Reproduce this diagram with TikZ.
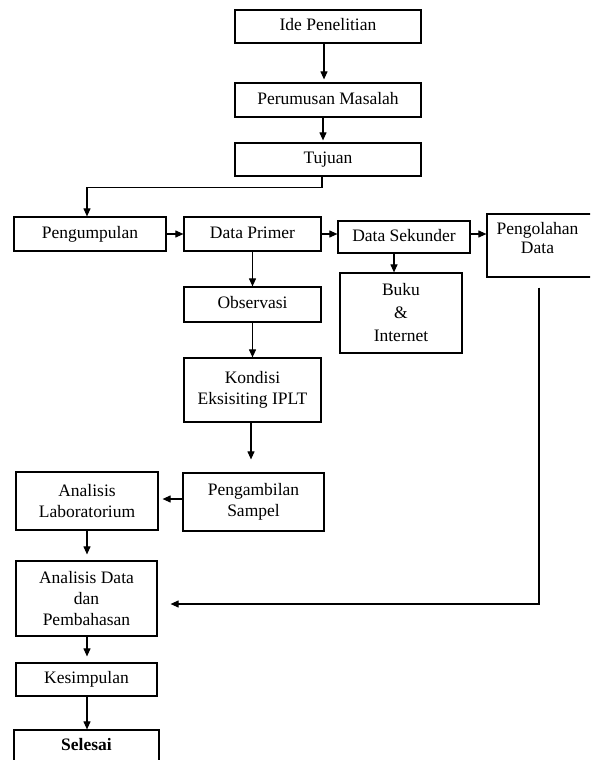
\documentclass[tikz,border=0pt]{standalone}
\usepackage{fontspec}
\setmainfont{Liberation Serif}
\usetikzlibrary{arrows.meta}
\tikzset{
  box/.style={draw, line width=1.2pt, rectangle, inner sep=0pt, align=center, fill=white,
              font=\fontsize{17.5}{21}\selectfont},
  one/.style={text height=12pt, text depth=3.8pt},
  arr/.style={-{Triangle[length=8pt,width=7pt]}, line width=1.1pt},
}
\begin{document}
\begin{tikzpicture}[x=1pt, y=-1pt]
\useasboundingbox (0,0) rectangle (590,760);
\clip (0,0) rectangle (590,760);
\fill[white] (0,0) rectangle (590,760);

% boxes
\node[box, one, minimum width=186pt, minimum height=33pt] (ide) at (328,26.5) {Ide Penelitian};
\node[box, one, minimum width=186pt, minimum height=34pt] (rumus) at (328,100) {Perumusan Masalah};
\node[box, one, minimum width=186pt, minimum height=33pt] (tujuan) at (328,159.5) {Tujuan};
\node[box, one, minimum width=152pt, minimum height=34pt] (kumpul) at (90,234) {Pengumpulan};
\node[box, one, minimum width=137pt, minimum height=34pt] (primer) at (252.5,234) {Data Primer};
\node[box, one, minimum width=132pt, minimum height=32pt] (sekunder) at (404,237) {Data Sekunder};
\node[box, minimum width=107pt, minimum height=63pt,
      label={[name=olahtxt, align=center, anchor=north, inner sep=0pt, yshift=-8.5pt, xshift=-3pt,
              font=\fontsize{17.5}{19}\selectfont]north:Pengolahan\\Data}] (olah) at (540.5,245.5) {};
\node[box, minimum width=122pt, minimum height=80pt] (buku) at (401,313) {Buku\\[2pt]\&\\[2pt]Internet};
\node[box, one, minimum width=137pt, minimum height=35pt] (obs) at (252.5,304.5) {Observasi};
\node[box, minimum width=137pt, minimum height=64pt] (kondisi) at (252.5,390) {Kondisi\\Eksisiting IPLT};
\node[box, minimum width=141pt, minimum height=58pt] (ambil) at (253.5,502) {Pengambilan\\Sampel};
\node[box, minimum width=142pt, minimum height=58pt] (lab) at (87,501) {Analisis\\Laboratorium};
\node[box, minimum width=141pt, minimum height=75pt] (adata) at (86.5,598.5) {Analisis Data\\dan\\Pembahasan};
\node[box, one, minimum width=141pt, minimum height=33pt] (simpul) at (86.5,679.5) {Kesimpulan};
\node[box, one, minimum width=145pt, minimum height=32pt] (selesai) at (86.5,746) {\bfseries Selesai};

% connectors
\draw[arr, shorten >=3pt] ([xshift=-4pt]ide.south) -- ([xshift=-4pt]rumus.north);
\draw[arr, shorten >=2pt] ([xshift=-5pt]rumus.south) -- ([xshift=-5pt]tujuan.north);
\draw[arr] ([xshift=-6pt]tujuan.south) -- ++(0,11) -| ([xshift=-3pt]kumpul.north);
\draw[arr] (kumpul.east) -- (primer.west);
\draw[arr] (primer.east) -- (primer.east -| sekunder.west);
\draw[arr] ([yshift=3pt]sekunder.east) -- ([yshift=3pt]sekunder.east -| olah.west);
\draw[arr] (primer.south) -- (obs.north);
\draw[arr] ([xshift=-10pt]sekunder.south) -- ([xshift=-10pt]sekunder.south |- buku.north);
\draw[arr] (obs.south) -- (obs.south |- kondisi.north);
\draw[arr, shorten >=13pt] ([xshift=-1.5pt]kondisi.south) -- ([xshift=-1.5pt]kondisi.south |- ambil.north);
\draw[arr, shorten >=4pt] ([yshift=3pt]ambil.west) -- ([yshift=3pt]ambil.west -| lab.east);
\draw[arr, shorten >=6pt] (lab.south) -- (lab.south |- adata.north);
\draw[arr, shorten >=6pt] ([xshift=0.5pt]adata.south) -- ([xshift=0.5pt]simpul.north);
\draw[arr] ([xshift=0.5pt]simpul.south) -- ([xshift=0.5pt]simpul.south |- selesai.north);
\draw[arr, shorten <=10pt, shorten >=13pt] ([xshift=-1.5pt]olah.south) |- ([yshift=-5.5pt]adata.east);
\end{tikzpicture}
\end{document}
